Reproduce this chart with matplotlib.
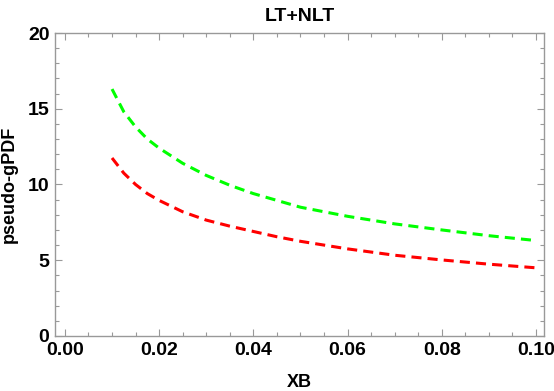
import numpy as np
import matplotlib.pyplot as plt
from matplotlib.ticker import MultipleLocator

plt.rcParams['font.family'] = ['Liberation Sans', 'DejaVu Sans']
plt.rcParams['font.weight'] = 'bold'

# valores
xb = [0.010, 0.0125, 0.015, 0.0175, 0.020, 0.025, 0.030, 0.035, 0.040,
      0.045, 0.050, 0.060, 0.070, 0.080, 0.090, 0.100]
verde = [16.3, 14.8, 13.8, 13.0, 12.4, 11.4, 10.6, 9.95, 9.4,
         8.95, 8.5, 7.9, 7.4, 7.0, 6.62, 6.3]
rojo = [11.75, 10.75, 10.0, 9.4, 8.95, 8.2, 7.65, 7.25, 6.9,
        6.55, 6.25, 5.75, 5.33, 5.02, 4.74, 4.5]

fig = plt.figure(figsize=(5.54, 3.91), dpi=100)
ax = fig.add_axes([0.0993, 0.1407, 0.8827, 0.7749])

ax.plot(xb, verde, color='#00ff00', lw=2.2, dashes=(3.3, 2))
ax.plot(xb, rojo, color='#ff0000', lw=2.2, dashes=(3.3, 2))

ax.set_xlim(-0.0021, 0.1017)
ax.set_ylim(0, 20)
ax.xaxis.set_major_locator(MultipleLocator(0.02))
ax.xaxis.set_minor_locator(MultipleLocator(0.005))
ax.yaxis.set_major_locator(MultipleLocator(5))
ax.yaxis.set_minor_locator(MultipleLocator(1))
ax.xaxis.set_major_formatter(plt.FuncFormatter(lambda v, p: f'{v:.2f}'))

gris = '#999999'
for s in ax.spines.values():
    s.set_color(gris)
    s.set_linewidth(1.0)
ax.tick_params(which='both', direction='in', top=True, right=True,
               color=gris, labelsize=14, width=0.8)
ax.tick_params(which='major', length=5, pad=4)
ax.tick_params(which='minor', length=3)

ax.set_xlabel('XB', fontsize=13, fontweight='bold', labelpad=11)
ax.set_ylabel('pseudo-gPDF', fontsize=13, fontweight='bold', labelpad=7)
ax.set_title('LT+NLT', fontsize=14, fontweight='bold', pad=9)

plt.savefig('out.png', dpi=100)
